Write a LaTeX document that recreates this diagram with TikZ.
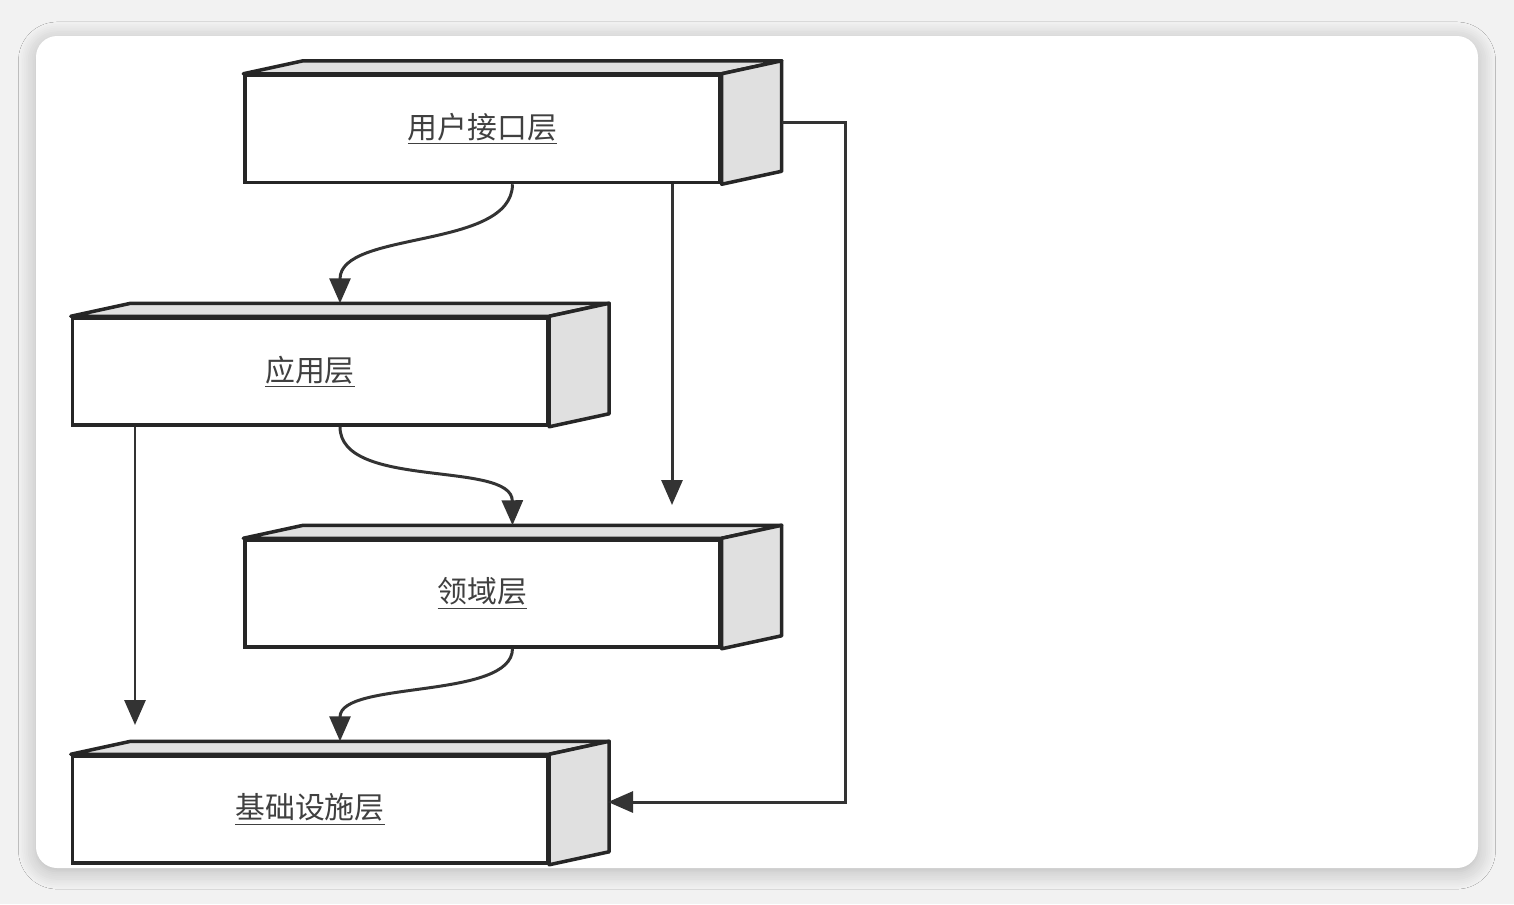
\documentclass[tikz,border=0pt]{standalone}
\usepackage{fontspec}
\newfontfamily\cjk{Noto Sans CJK SC}
\usetikzlibrary{arrows.meta,calc,shadows.blur}
\begin{document}
\begin{tikzpicture}[x=0.02cm,y=-0.02cm,
  layer/.style={draw=black!85,line width=2pt,fill=white,minimum width=9.5cm,minimum height=2.14cm,inner sep=0pt,font=\cjk\fontsize{17pt}{20pt}\selectfont,text=black!75},
  conn/.style={draw=black!80,line width=1.7pt,-{Triangle[length=0.5cm,width=0.42cm]}}]
\useasboundingbox (0,0) rectangle (1514,904);
\fill[black!5] (0,0) rectangle (1514,904);
\fill[white,rounded corners=12pt,blur shadow={shadow blur steps=10,shadow xshift=0pt,shadow yshift=-2pt,shadow blur radius=10pt,shadow opacity=25}] (36,36) rectangle (1478,868);
\newcommand\cuboid[1]{%
  \filldraw[draw=black!85,line width=2pt,fill=black!12,line join=round] (#1.north west) -- ++(60,-13) -- ($(#1.north east)+(60,-13)$) -- (#1.north east) -- cycle;
  \filldraw[draw=black!85,line width=2pt,fill=black!12,line join=round] (#1.north east) -- ++(60,-13) -- ($(#1.south east)+(60,-13)$) -- (#1.south east) -- cycle;}
\node[layer] (ui) at (482.5,129) {\underline{用户接口层}};
\node[layer] (app) at (310,371.5) {\underline{应用层}};
\node[layer] (dom) at (482.5,593.5) {\underline{领域层}};
\node[layer] (inf) at (310,809.5) {\underline{基础设施层}};
\cuboid{ui}\cuboid{app}\cuboid{dom}\cuboid{inf}
\coordinate (e1) at (672,505);
\coordinate (e2) at (135,725);
\draw[conn] ($(ui.south)+(30,0)$) .. controls (512,250) and (340,230) .. ($(app.north)+(30,-13)$);
\draw[conn] ($(app.south)+(30,0)$) .. controls (340,490) and (512,460) .. ($(dom.north)+(30,-13)$);
\draw[conn] ($(dom.south)+(30,0)$) .. controls (512,700) and (340,680) .. ($(inf.north)+(30,-13)$);
\draw[conn] (ui.south -| e1) -- (e1);
\draw[conn] (app.south -| e2) -- (e2);
\draw[conn] ($(ui.east)+(60,-7)$) -- (845,122) -- (845,802) -- (608,802);
\end{tikzpicture}
\end{document}
